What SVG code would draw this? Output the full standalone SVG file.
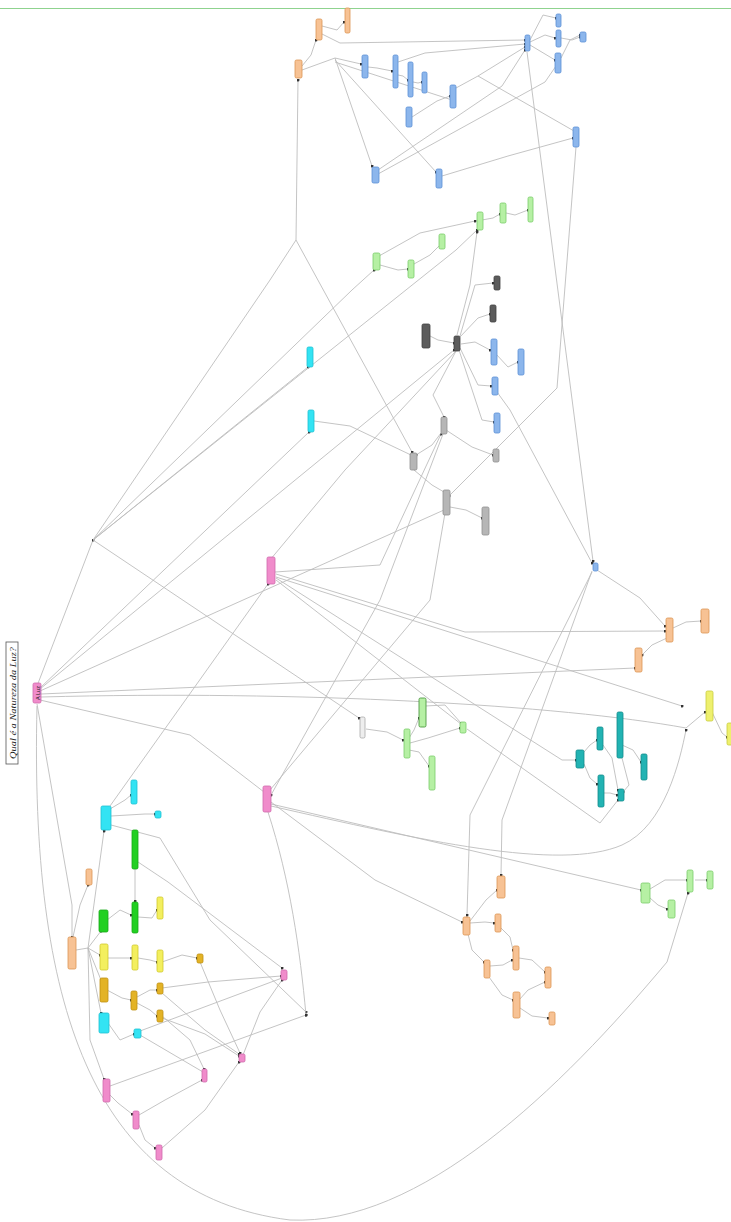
<svg xmlns="http://www.w3.org/2000/svg" width="731" height="1222" viewBox="0 0 731 1222">
<style>
.c{fill:none;stroke:#bdbdbd;stroke-width:0.9}
.n{stroke-width:0.8}
.pk{fill:#f08ccb;stroke:#cf6aac}
.or{fill:#f7c294;stroke:#dc9653}
.bl{fill:#8cb6ec;stroke:#5b8fd6}
.lg{fill:#b6f0a4;stroke:#7acb69}
.dg{fill:#5c5c5c;stroke:#3f3f3f}
.gr{fill:#b6b6b6;stroke:#8f8f8f}
.cy{fill:#33e3f3;stroke:#1fc0d2}
.bg{fill:#22d022;stroke:#18a818}
.ye{fill:#f3ef5e;stroke:#cfc82f}
.mu{fill:#e3b326;stroke:#bf9012}
.tl{fill:#22b3b3;stroke:#128b8b}
.yg{fill:#eef06e;stroke:#c8cb3f}
.wh{fill:#eeeeee;stroke:#a8a8a8}
</style>
<defs>
<marker id="d" viewBox="0 0 4 4" refX="2" refY="2" markerWidth="3" markerHeight="3" markerUnits="userSpaceOnUse"><circle cx="2" cy="2" r="2" fill="#333"/></marker>
</defs>
<rect width="731" height="1222" fill="#ffffff"/>
<line x1="0" y1="8.5" x2="731" y2="8.5" stroke="#8fd38f" stroke-width="1"/>
<g id="connectors" marker-end="url(#d)">
<polyline class="c" points="37,686 93,540"/>
<polyline class="c" points="93,540 270,280 296,240 298,80"/>
<polyline class="c" points="296,240 412,452"/>
<polyline class="c" points="93,540 308,367"/>
<polyline class="c" points="93,540 352,290 374,270"/>
<polyline class="c" points="93,540 456,250 477,230"/>
<polyline class="c" points="93,540 359,718"/>
<polyline class="c" points="40,688 309,432"/>
<polyline class="c" points="314,421 350,426 411,455"/>
<polyline class="c" points="40,689 454,350"/>
<polyline class="c" points="40,691 444,510"/>
<polyline class="c" points="41,694 316,682 635,668"/>
<path class="c" d="M41,697 C300,690 560,705 686,728 L705,712"/>
<polyline class="c" points="40,700 190,735 264,792"/>
<polyline class="c" points="37,704 72,905 72,937"/>
<path class="c" d="M37,706 C30,1000 90,1195 290,1220 C420,1226 560,1090 667,962 L688,893"/>
<polyline class="c" points="73,937 80,905 88,885"/>
<polyline class="c" points="76,950 88,948 104,831"/>
<polyline class="c" points="88,948 101,931"/>
<polyline class="c" points="88,948 100,955"/>
<polyline class="c" points="88,948 101,980"/>
<polyline class="c" points="88,948 101,1013"/>
<polyline class="c" points="88,948 90,1040 104,1079"/>
<polyline class="c" points="110,809 125,800 131,795"/>
<polyline class="c" points="111,816 145,814 155,814"/>
<polyline class="c" points="111,825 160,838 210,920 306,1012"/>
<polyline class="c" points="110,806 268,584"/>
<polyline class="c" points="135,868 135,885 135,901"/>
<polyline class="c" points="138,862 168,882 282,968"/>
<polyline class="c" points="107,920 120,910 131,915"/>
<polyline class="c" points="138,917 152,918 157,910"/>
<polyline class="c" points="107,958 118,958 131,958"/>
<polyline class="c" points="138,958 150,960 157,962"/>
<polyline class="c" points="162,962 182,955 197,958"/>
<polyline class="c" points="107,990 122,998 131,1000"/>
<polyline class="c" points="137,997 150,990 157,990"/>
<polyline class="c" points="137,1003 150,1010 157,1016"/>
<polyline class="c" points="162,988 208,982 281,976"/>
<polyline class="c" points="162,993 205,1030 239,1054"/>
<polyline class="c" points="162,1018 205,1034 239,1056"/>
<polyline class="c" points="200,962 220,1010 240,1053"/>
<polyline class="c" points="162,1016 190,1040 204,1069"/>
<polyline class="c" points="140,1031 282,978"/>
<polyline class="c" points="140,1035 203,1072"/>
<polyline class="c" points="108,1023 120,1040 134,1034"/>
<polyline class="c" points="110,1095 118,1103 132,1114"/>
<polyline class="c" points="139,1125 145,1140 155,1148"/>
<polyline class="c" points="139,1115 165,1100 202,1080"/>
<polyline class="c" points="162,1148 205,1110 239,1062"/>
<polyline class="c" points="110,1086 306,1015"/>
<path class="c" d="M268,812 C290,880 300,950 306,1015"/>
<polyline class="c" points="243,1055 260,1012 282,980"/>
<polyline class="c" points="275,572 380,565 441,434"/>
<polyline class="c" points="276,574 465,632 665,631"/>
<polyline class="c" points="276,577 682,706"/>
<polyline class="c" points="276,578 562,760 576,760"/>
<polyline class="c" points="276,580 461,724"/>
<polyline class="c" points="467,729 600,823 618,800"/>
<polyline class="c" points="270,790 430,600 445,513"/>
<polyline class="c" points="271,802 375,880 462,922"/>
<polyline class="c" points="271,804 641,890"/>
<path class="c" d="M271,806 C420,840 560,872 622,845 C665,826 680,760 686,730"/>
<polyline class="c" points="597,570 640,598 665,626"/>
<polyline class="c" points="673,628 686,622 701,621"/>
<polyline class="c" points="667,638 652,645 642,655"/>
<polyline class="c" points="592,571 502,820 501,875"/>
<polyline class="c" points="592,572 470,815 467,915"/>
<polyline class="c" points="497,392 510,410 592,563"/>
<polyline class="c" points="527,52 593,561"/>
<polyline class="c" points="576,147 557,388 449,496"/>
<polyline class="c" points="712,712 722,733 727,737"/>
<polyline class="c" points="584,752 590,745 597,740"/>
<polyline class="c" points="584,764 590,778 597,784"/>
<polyline class="c" points="603,745 612,758 618,790"/>
<polyline class="c" points="622,758 629,785 623,792"/>
<polyline class="c" points="622,745 633,750 641,762"/>
<polyline class="c" points="604,793 610,793 617,795"/>
<polyline class="c" points="366,729 387,732 403,740"/>
<polyline class="c" points="409,738 414,730 419,718"/>
<polyline class="c" points="409,750 419,752 429,766"/>
<polyline class="c" points="410,743 428,738 460,728"/>
<polyline class="c" points="425,706 445,705 461,723"/>
<polyline class="c" points="470,923 485,922 494,923"/>
<polyline class="c" points="470,921 486,900 497,890"/>
<polyline class="c" points="501,928 510,937 513,950"/>
<polyline class="c" points="468,934 472,950 484,962"/>
<polyline class="c" points="490,966 503,965 512,960"/>
<polyline class="c" points="519,958 532,960 545,972"/>
<polyline class="c" points="489,977 502,995 513,1000"/>
<polyline class="c" points="519,1000 528,990 545,982"/>
<polyline class="c" points="520,1008 532,1016 548,1018"/>
<polyline class="c" points="650,889 665,880 687,880"/>
<polyline class="c" points="695,880 700,880 707,880"/>
<polyline class="c" points="650,898 658,905 667,909"/>
<polyline class="c" points="302,66 311,55 316,40"/>
<polyline class="c" points="322,26 337,30 344,22"/>
<polyline class="c" points="322,34 340,43 525,40"/>
<polyline class="c" points="302,70 335,58 361,64"/>
<polyline class="c" points="335,58 372,166"/>
<polyline class="c" points="335,60 436,172"/>
<polyline class="c" points="335,62 452,100"/>
<polyline class="c" points="368,67 377,68 392,71"/>
<polyline class="c" points="398,62 425,53 525,44"/>
<polyline class="c" points="398,75 403,76 408,80"/>
<polyline class="c" points="413,82 418,83 422,82"/>
<polyline class="c" points="412,117 437,101 450,96"/>
<polyline class="c" points="456,88 478,76 525,47"/>
<polyline class="c" points="478,76 574,131"/>
<polyline class="c" points="378,170 502,86 525,50"/>
<polyline class="c" points="378,174 545,82 556,66"/>
<polyline class="c" points="442,176 508,156 573,138"/>
<polyline class="c" points="530,40 543,15 556,18"/>
<polyline class="c" points="530,42 545,35 555,38"/>
<polyline class="c" points="530,45 555,60"/>
<polyline class="c" points="561,38 572,40 580,37"/>
<polyline class="c" points="561,58 570,40 580,35"/>
<polyline class="c" points="380,265 398,270 408,269"/>
<polyline class="c" points="414,264 430,255 440,245"/>
<polyline class="c" points="379,256 420,233 475,221"/>
<polyline class="c" points="482,220 493,218 500,214"/>
<polyline class="c" points="506,213 515,215 528,210"/>
<polyline class="c" points="457,335 470,285 477,232"/>
<polyline class="c" points="430,336 438,340 454,343"/>
<polyline class="c" points="460,337 478,318 490,314"/>
<polyline class="c" points="460,336 475,285 493,283"/>
<polyline class="c" points="461,344 475,342 490,350"/>
<polyline class="c" points="460,348 478,385 491,386"/>
<polyline class="c" points="459,350 482,420 494,422"/>
<polyline class="c" points="456,351 433,395 444,417"/>
<polyline class="c" points="496,354 508,367 518,362"/>
<polyline class="c" points="441,433 432,445 416,455"/>
<polyline class="c" points="446,430 472,447 493,455"/>
<polyline class="c" points="414,470 432,485 444,492"/>
<polyline class="c" points="450,507 466,510 482,518"/>
<polyline class="c" points="456,351 345,470 270,560"/>
<polyline class="c" points="443,434 380,600 271,795"/>
</g>
<g id="title">
<rect x="6" y="642" width="12" height="122" fill="#ffffff" stroke="#555" stroke-width="0.8"/>
<text transform="translate(15.5,703) rotate(-90)" text-anchor="middle" font-family="Liberation Serif, serif" font-style="italic" font-size="9" fill="#222" textLength="112" lengthAdjust="spacingAndGlyphs">Qual é a Natureza da Luz?</text>
</g>
<g id="n-aluz"><rect class="n pk" x="33" y="683" width="8" height="20" rx="1.5"/><text transform="translate(39.5,693) rotate(-90)" text-anchor="middle" font-family="Liberation Sans, sans-serif" font-size="5.5" fill="#222">A Luz</text></g>
<g id="n-o1"><rect class="n or" x="295" y="60" width="7" height="18" rx="1.5"/></g>
<g id="n-o2"><rect class="n or" x="316" y="19" width="6" height="21" rx="1.5"/></g>
<g id="n-o3"><rect class="n or" x="345" y="8" width="5" height="25" rx="1.5"/></g>
<g id="n-b1"><rect class="n bl" x="362" y="55" width="6" height="23" rx="1.5"/></g>
<g id="n-b2"><rect class="n bl" x="393" y="55" width="5" height="33" rx="1.5"/></g>
<g id="n-b3"><rect class="n bl" x="408" y="62" width="5" height="35" rx="1.5"/></g>
<g id="n-b4"><rect class="n bl" x="422" y="72" width="5" height="21" rx="1.5"/></g>
<g id="n-b5"><rect class="n bl" x="406" y="107" width="6" height="20" rx="1.5"/></g>
<g id="n-b6"><rect class="n bl" x="450" y="85" width="6" height="23" rx="1.5"/></g>
<g id="n-b7"><rect class="n bl" x="525" y="35" width="5" height="16" rx="1.5"/></g>
<g id="n-b8"><rect class="n bl" x="556" y="14" width="5" height="13" rx="1.5"/></g>
<g id="n-b9"><rect class="n bl" x="556" y="30" width="5" height="17" rx="1.5"/></g>
<g id="n-b10"><rect class="n bl" x="555" y="53" width="6" height="20" rx="1.5"/></g>
<g id="n-b11"><rect class="n bl" x="580" y="32" width="6" height="10" rx="1.5"/></g>
<g id="n-b12"><rect class="n bl" x="573" y="127" width="6" height="20" rx="1.5"/></g>
<g id="n-b13"><rect class="n bl" x="372" y="167" width="7" height="16" rx="1.5"/></g>
<g id="n-b14"><rect class="n bl" x="436" y="169" width="6" height="19" rx="1.5"/></g>
<g id="n-g1"><rect class="n lg" x="373" y="253" width="7" height="17" rx="1.5"/></g>
<g id="n-g2"><rect class="n lg" x="408" y="260" width="6" height="18" rx="1.5"/></g>
<g id="n-g3"><rect class="n lg" x="439" y="234" width="6" height="15" rx="1.5"/></g>
<g id="n-g4"><rect class="n lg" x="477" y="212" width="6" height="18" rx="1.5"/></g>
<g id="n-g5"><rect class="n lg" x="500" y="203" width="6" height="20" rx="1.5"/></g>
<g id="n-g6"><rect class="n lg" x="528" y="197" width="5" height="25" rx="1.5"/></g>
<g id="n-d1"><rect class="n dg" x="422" y="324" width="8" height="24" rx="1.5"/></g>
<g id="n-d2"><rect class="n dg" x="454" y="336" width="6" height="15" rx="1.5"/></g>
<g id="n-d3"><rect class="n dg" x="494" y="276" width="6" height="14" rx="1.5"/></g>
<g id="n-d4"><rect class="n dg" x="490" y="305" width="6" height="17" rx="1.5"/></g>
<g id="n-bl1"><rect class="n bl" x="491" y="339" width="6" height="26" rx="1.5"/></g>
<g id="n-bl2"><rect class="n bl" x="518" y="349" width="6" height="26" rx="1.5"/></g>
<g id="n-bl3"><rect class="n bl" x="492" y="377" width="6" height="18" rx="1.5"/></g>
<g id="n-bl4"><rect class="n bl" x="494" y="413" width="6" height="20" rx="1.5"/></g>
<g id="n-gr1"><rect class="n gr" x="441" y="417" width="6" height="17" rx="1.5"/></g>
<g id="n-gr2"><rect class="n gr" x="410" y="453" width="7" height="17" rx="1.5"/></g>
<g id="n-gr3"><rect class="n gr" x="493" y="449" width="6" height="13" rx="1.5"/></g>
<g id="n-gr4"><rect class="n gr" x="443" y="490" width="7" height="25" rx="1.5"/></g>
<g id="n-gr5"><rect class="n gr" x="482" y="507" width="7" height="28" rx="1.5"/></g>
<g id="n-c1"><rect class="n cy" x="307" y="347" width="6" height="20" rx="1.5"/></g>
<g id="n-c2"><rect class="n cy" x="308" y="410" width="6" height="22" rx="1.5"/></g>
<g id="n-p1"><rect class="n pk" x="267" y="557" width="8" height="27" rx="1.5"/></g>
<g id="n-p2"><rect class="n pk" x="263" y="786" width="8" height="26" rx="1.5"/></g>
<g id="n-bs"><rect class="n bl" x="593" y="563" width="5" height="8" rx="1.5"/></g>
<g id="n-or1"><rect class="n or" x="666" y="618" width="7" height="24" rx="1.5"/></g>
<g id="n-or2"><rect class="n or" x="701" y="609" width="8" height="24" rx="1.5"/></g>
<g id="n-or3"><rect class="n or" x="635" y="648" width="7" height="24" rx="1.5"/></g>
<g id="n-yg1"><rect class="n yg" x="706" y="691" width="7" height="30" rx="1.5"/></g>
<g id="n-yg2"><rect class="n yg" x="727" y="723" width="6" height="22" rx="1.5"/></g>
<g id="n-t1"><rect class="n tl" x="576" y="750" width="8" height="18" rx="1.5"/></g>
<g id="n-t2"><rect class="n tl" x="597" y="727" width="6" height="23" rx="1.5"/></g>
<g id="n-t3"><rect class="n tl" x="617" y="712" width="6" height="46" rx="1.5"/></g>
<g id="n-t4"><rect class="n tl" x="641" y="754" width="6" height="26" rx="1.5"/></g>
<g id="n-t5"><rect class="n tl" x="598" y="775" width="6" height="32" rx="1.5"/></g>
<g id="n-t6"><rect class="n tl" x="618" y="789" width="6" height="12" rx="1.5"/></g>
<g id="n-lg1"><rect class="n wh" x="360" y="717" width="5" height="21" rx="1.5"/></g>
<g id="n-lg2"><rect class="n lg" x="404" y="729" width="6" height="29" rx="1.5"/></g>
<g id="n-lg3"><rect x="419" y="698" width="7" height="29" rx="1.5" fill="#b6f0a4" stroke="#4f9a44" stroke-width="0.9"/></g>
<g id="n-lg4"><rect class="n lg" x="429" y="756" width="6" height="34" rx="1.5"/></g>
<g id="n-lg5"><rect class="n lg" x="460" y="722" width="6" height="11" rx="1.5"/></g>
<g id="n-lo1"><rect class="n or" x="497" y="876" width="8" height="22" rx="1.5"/></g>
<g id="n-lo2"><rect class="n or" x="463" y="917" width="7" height="18" rx="1.5"/></g>
<g id="n-lo3"><rect class="n or" x="495" y="914" width="6" height="18" rx="1.5"/></g>
<g id="n-lo4"><rect class="n or" x="513" y="946" width="6" height="24" rx="1.5"/></g>
<g id="n-lo5"><rect class="n or" x="484" y="960" width="6" height="18" rx="1.5"/></g>
<g id="n-lo6"><rect class="n or" x="545" y="967" width="6" height="21" rx="1.5"/></g>
<g id="n-lo7"><rect class="n or" x="513" y="992" width="7" height="26" rx="1.5"/></g>
<g id="n-lo8"><rect class="n or" x="549" y="1012" width="6" height="13" rx="1.5"/></g>
<g id="n-rg1"><rect class="n lg" x="641" y="883" width="9" height="20" rx="1.5"/></g>
<g id="n-rg2"><rect class="n lg" x="668" y="900" width="7" height="18" rx="1.5"/></g>
<g id="n-rg3"><rect class="n lg" x="687" y="870" width="6" height="22" rx="1.5"/></g>
<g id="n-rg4"><rect class="n lg" x="707" y="871" width="6" height="18" rx="1.5"/></g>
<g id="n-lc1"><rect class="n cy" x="101" y="806" width="10" height="24" rx="1.5"/></g>
<g id="n-lc2"><rect class="n cy" x="131" y="780" width="6" height="24" rx="1.5"/></g>
<g id="n-lc3"><rect class="n cy" x="155" y="811" width="6" height="7" rx="1.5"/></g>
<g id="n-bg1"><rect class="n bg" x="132" y="830" width="6" height="39" rx="1.5"/></g>
<g id="n-bg2"><rect class="n bg" x="99" y="910" width="9" height="22" rx="1.5"/></g>
<g id="n-bg3"><rect class="n bg" x="132" y="902" width="6" height="31" rx="1.5"/></g>
<g id="n-y1"><rect class="n ye" x="157" y="897" width="6" height="22" rx="1.5"/></g>
<g id="n-y2"><rect class="n ye" x="100" y="944" width="8" height="26" rx="1.5"/></g>
<g id="n-y3"><rect class="n ye" x="132" y="945" width="6" height="25" rx="1.5"/></g>
<g id="n-y4"><rect class="n ye" x="157" y="950" width="6" height="22" rx="1.5"/></g>
<g id="n-ora"><rect class="n or" x="86" y="869" width="6" height="16" rx="1.5"/></g>
<g id="n-orb"><rect class="n or" x="68" y="937" width="8" height="32" rx="1.5"/></g>
<g id="n-m1"><rect class="n mu" x="197" y="954" width="6" height="9" rx="1.5"/></g>
<g id="n-m2"><rect class="n mu" x="100" y="978" width="8" height="24" rx="1.5"/></g>
<g id="n-m3"><rect class="n mu" x="131" y="991" width="6" height="19" rx="1.5"/></g>
<g id="n-m4"><rect class="n mu" x="157" y="983" width="6" height="11" rx="1.5"/></g>
<g id="n-m5"><rect class="n mu" x="157" y="1010" width="6" height="12" rx="1.5"/></g>
<g id="n-lc4"><rect class="n cy" x="99" y="1013" width="10" height="20" rx="1.5"/></g>
<g id="n-lc5"><rect class="n cy" x="134" y="1029" width="7" height="9" rx="1.5"/></g>
<g id="n-pk1"><rect class="n pk" x="281" y="970" width="6" height="10" rx="1.5"/></g>
<g id="n-pk2"><rect class="n pk" x="239" y="1054" width="6" height="8" rx="1.5"/></g>
<g id="n-pk3"><rect class="n pk" x="202" y="1069" width="5" height="13" rx="1.5"/></g>
<g id="n-pk4"><rect class="n pk" x="103" y="1079" width="7" height="23" rx="1.5"/></g>
<g id="n-pk5"><rect class="n pk" x="133" y="1111" width="6" height="18" rx="1.5"/></g>
<g id="n-pk6"><rect class="n pk" x="156" y="1145" width="6" height="15" rx="1.5"/></g>
</svg>
